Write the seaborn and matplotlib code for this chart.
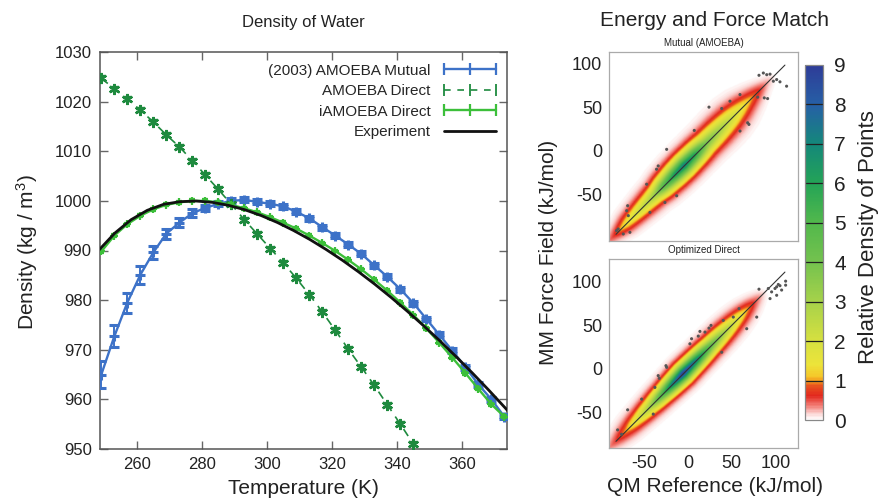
import numpy as np
import pandas as pd
import matplotlib
matplotlib.use("Agg")
import matplotlib.pyplot as plt
import seaborn as sns
from matplotlib.colors import LinearSegmentedColormap
from matplotlib.lines import Line2D
from matplotlib.transforms import ScaledTranslation

sns.set_style("ticks")
plt.rcParams["font.family"] = ["Liberation Sans", "DejaVu Sans"]
plt.rcParams["mathtext.default"] = "regular"
plt.rcParams["axes.unicode_minus"] = False

# ---------------- Density of water (left panel) ----------------
temps = [249, 253, 257, 261, 265, 269, 273, 277, 281, 285, 289, 293, 297, 301,
         305, 309, 313, 317, 321, 325, 329, 333, 337, 341, 345, 349, 353, 357,
         361, 365, 369, 373]

mutual_density = [965.0, 972.7, 979.5, 985.1, 989.6, 993.4, 995.6, 997.5, 998.6,
                  999.4, 1000.0, 1000.2, 999.8, 999.4, 998.9, 997.8, 996.5, 994.7,
                  993.0, 991.2, 989.3, 987.0, 984.7, 982.2, 979.4, 976.2, 973.0,
                  969.8, 966.5, 963.0, 960.0, 956.5]
mutual_err = [2.75, 2.2, 2.0, 1.75, 1.25, 1.0, 0.9, 0.8, 0.6, 0.5, 0.5, 0.5, 0.5,
              0.5, 0.5, 0.5, 0.5, 0.5, 0.5, 0.5, 0.5, 0.5, 0.5, 0.5, 0.5, 0.5,
              0.5, 0.5, 0.5, 0.5, 0.5, 0.5]

direct_temps = [249, 253, 257, 261, 265, 269, 273, 277, 281, 285, 289, 293, 297,
                301, 305, 309, 313, 317, 321, 325, 329, 333, 337, 341, 345]
direct_density = [1024.7, 1022.6, 1020.5, 1018.3, 1015.9, 1013.3, 1010.9, 1008.1,
                  1005.2, 1002.3, 999.3, 996.2, 993.3, 990.4, 987.5, 984.4, 981.1,
                  977.6, 973.9, 970.1, 966.5, 962.8, 958.9, 955.0, 951.0]

iamoeba_density = [989.8, 993.0, 995.3, 997.0, 998.3, 999.2, 999.7, 1000.0, 1000.0,
                   999.7, 999.2, 998.5, 997.7, 996.7, 995.6, 994.4, 993.0, 991.5,
                   989.9, 988.1, 986.2, 984.1, 981.9, 979.5, 977.0, 974.3, 971.4,
                   968.4, 965.3, 962.1, 959.0, 956.5]

exp_temps = [248.15, 253.15, 258.15, 263.15, 268.15, 273.15, 278.15, 283.15, 288.15,
             293.15, 298.15, 303.15, 308.15, 313.15, 318.15, 323.15, 328.15, 333.15,
             338.15, 343.15, 348.15, 353.15, 358.15, 363.15, 368.15, 373.15, 375.0]
exp_density = [990.0, 993.5, 996.2, 998.1, 999.3, 999.84, 999.97, 999.70, 999.10,
               998.21, 997.05, 995.65, 994.03, 992.22, 990.21, 988.04, 985.69, 983.20,
               980.55, 977.76, 974.84, 971.79, 968.61, 965.31, 961.89, 958.35, 957.0]

series_labels = ["(2003) AMOEBA Mutual", "AMOEBA Direct", "iAMOEBA Direct", "Experiment"]
c_mutual, c_direct, c_iamoeba, c_exp = "#3d72c8", "#1e8a3e", "#3cbf3a", "#111111"

# ---------------- Energy and force match (right panels) ----------------
# band profile along the diagonal: position, peak relative density, half-width
mutual_s = [-100, -85, -72, -58, -45, -38, -30, -15, -5, 8, 20, 35, 50, 62, 75, 88, 100]
mutual_peak = [0.0, 0.6, 1.4, 2.1, 2.7, 3.3, 4.7, 6.5, 7.2, 6.0, 4.0, 3.1, 2.2, 1.5, 0.9, 0.35, 0.0]
mutual_width = [5, 7, 8.5, 9, 9.5, 9.5, 9.8, 10, 10, 10.2, 10.8, 11.5, 12, 11.5, 9.5, 7, 5]

direct_s = [-100, -82, -70, -58, -44, -30, -17, -6, 9, 25, 41, 55, 65, 77, 90, 100]
direct_peak = [0.0, 0.6, 1.1, 1.9, 3.1, 5.2, 7.5, 9.0, 7.3, 4.7, 3.1, 1.9, 1.2, 0.5, 0.0, 0.0]
direct_width = [5, 8, 8.7, 8.5, 8.5, 8.3, 8.3, 8.4, 8.4, 8.7, 9.0, 9.0, 8.7, 7.5, 5, 5]

mutual_out_x = [81.2, 86.2, 90.1, 93.9, 97.7, 101.5, 105.3, 112.9, 87.3, 91.1, 59.4,
                47.9, 23.8, 38.4, 68.2, 69.7, 59.4, 6.9, -24.8, -34.5, -36.4, -47.8,
                -69.6, -70.7, -68.8, -80.4, -82.3, -74.6, -67.0, -26.8, -44.0, 79.7, -13.3]
mutual_out_y = [99.3, 101.9, 100.0, 100.6, 92.5, 94.4, 91.8, 86.8, 73.4, 72.6, 77.2,
                69.6, 62.8, 61.2, 44.9, 43.0, 35.4, 36.1, 14.4, -4.6, -8.4, -25.6,
                -50.2, -55.9, -61.6, -76.9, -78.8, -82.6, -80.7, -46.5, -57.9, 74.2, -38.8]

direct_out_x = [81.2, 91.9, 95.7, 99.6, 101.5, 103.4, 105.3, 107.2, 111.8, 111.8, 101.5,
                93.9, 78.6, 67.1, 58.3, 51.7, 40.2, 26.1, 23.8, 19.2, 13.4, 11.5, 3.8,
                1.9, -24.8, -25.6, -34.5, -33.3, -38.3, -53.5, -69.6, -40.2, -81.1,
                -76.6, 38.4]
direct_out_y = [91.4, 92.2, 88.3, 92.2, 94.1, 96.8, 95.4, 90.4, 100.6, 96.0, 84.4,
                80.6, 59.4, 46.1, 69.1, 59.4, 55.6, 49.9, 46.8, 42.2, 43.0, 37.6, 34.6,
                28.8, 1.8, 3.7, -7.7, -10.8, -21.2, -34.6, -46.9, -51.8, -69.9,
                -74.9, 19.1]

ref_line = [-83, 111]
panel_lim = (-91, 126)
panel_ticks = [-50, 0, 50, 100]

density_levels = [0, 0.15, 0.35, 0.6, 0.85, 0.98, 1.1, 1.4, 2, 3, 4, 5, 6, 7, 8, 9]
density_colors = ["#ffffff", "#fbd2d0", "#f27c74", "#e2281e", "#e8521e", "#f39a1e",
                  "#f5c82a", "#ece43a", "#d6e040", "#a6d24a", "#74c24e", "#52b84c",
                  "#24a456", "#14887a", "#2660a6", "#2e3c98"]
density_cmap = LinearSegmentedColormap.from_list(
    "reldens", [(v / 9, c) for v, c in zip(density_levels, density_colors)])

# ---------------- figure ----------------
fig = plt.figure(figsize=(8.8, 4.99), dpi=100)

ax = fig.add_axes([100 / 880, 1 - 449 / 499, 407 / 880, 397 / 499])
ax.errorbar(temps, mutual_density, yerr=mutual_err, color=c_mutual, lw=1.7,
            marker="+", ms=7, mew=2.2, capsize=3.5, elinewidth=1.4, capthick=1.4,
            zorder=3)
ax.errorbar(direct_temps, direct_density, yerr=0.4, color=c_direct, lw=1.2,
            ls=(0, (5, 4)), marker=(6, 2, 0), ms=8, mew=1.7, capsize=3,
            elinewidth=1.2, capthick=1.2, zorder=3)
ax.errorbar(temps, iamoeba_density, yerr=0.3, color=c_iamoeba, lw=1.7,
            marker="+", ms=6, mew=1.6, capsize=2.5, elinewidth=1.2, capthick=1.2,
            zorder=4)
exp_df = pd.DataFrame({"T": exp_temps, "rho": exp_density})
sns.lineplot(data=exp_df, x="T", y="rho", ax=ax, color=c_exp, lw=2.0, zorder=5)

ax.set_xlim(248.6, 373.8)
ax.set_ylim(950, 1030)
ax.set_xticks([260, 280, 300, 320, 340, 360])
ax.set_yticks(range(950, 1031, 10))
ax.set_xlabel("")
ax.set_ylabel("")
ax.tick_params(direction="in", length=6, width=1, color="#666", labelsize=12,
               labelcolor="#222", top=True, right=True, pad=6)
for sp in ax.spines.values():
    sp.set_color("#555")
    sp.set_linewidth(1.1)

handles = [
    Line2D([0], [0], color=c_mutual, lw=1.7, marker="|", ms=8, mew=1.6),
    Line2D([0], [0], color=c_direct, lw=1.2, ls=(0, (4, 4)), marker="|", ms=8, mew=1.3),
    Line2D([0], [0], color=c_iamoeba, lw=1.7, marker="|", ms=8, mew=1.6),
    Line2D([0], [0], color=c_exp, lw=2.0),
]
ax.legend(handles, series_labels, loc="upper right", bbox_to_anchor=(1.018, 1.005),
          markerfirst=False, frameon=False, fontsize=11, numpoints=3,
          handlelength=4.0, handletextpad=0.6, labelspacing=0.42)

fig.text(303 / 880, 1 - 22 / 499, "Density of Water", fontsize=12, ha="center",
         va="center", color="#222")
fig.text(303 / 880, 1 - 489 / 499, "Temperature (K)", fontsize=15, ha="center",
         va="center", color="#222")
fig.text(27 / 880, 1 - 252 / 499, "Density (kg / m$^3$)", fontsize=15, ha="center",
         va="center", rotation=90, color="#222")

# density panels
grid = np.linspace(panel_lim[0], panel_lim[1], 420)
GX, GY = np.meshgrid(grid, grid)
S = (GX + GY) / 2
D = (GY - GX) / np.sqrt(2)


def band_density(s_knots, peak_knots, width_knots):
    peak = np.interp(S, s_knots, peak_knots)
    width = np.interp(S, s_knots, width_knots)
    return peak * np.exp(-(np.abs(D) / width) ** 1.5)


panels = [
    ("Mutual (AMOEBA)", 1 - 241.3 / 499, mutual_s, mutual_peak, mutual_width,
     mutual_out_x, mutual_out_y),
    ("Optimized Direct", 1 - 448.3 / 499, direct_s, direct_peak, direct_width,
     direct_out_x, direct_out_y),
]
axes_r = []
im = None
for title, bottom, s_k, p_k, w_k, ox, oy in panels:
    axr = fig.add_axes([609 / 880, bottom, 189 / 880, 189.3 / 499])
    Z = band_density(s_k, p_k, w_k)
    im = axr.imshow(Z, extent=(panel_lim[0], panel_lim[1], panel_lim[0], panel_lim[1]),
                    origin="lower", cmap=density_cmap, vmin=0, vmax=9,
                    interpolation="bilinear", aspect="auto", zorder=1)
    axr.plot(ref_line, ref_line, color="#333", lw=0.8, zorder=3)
    sns.scatterplot(x=ox, y=oy, ax=axr, color="#555", s=5, edgecolor="none",
                    legend=False, zorder=4)
    axr.set_xlim(*panel_lim)
    axr.set_ylim(*panel_lim)
    axr.set_xticks(panel_ticks)
    axr.set_yticks(panel_ticks)
    axr.tick_params(direction="in", length=4, width=0.8, color="#999", labelsize=13,
                    labelcolor="#222", top=True, right=True, pad=5)
    for sp in axr.spines.values():
        sp.set_color("#aaa")
        sp.set_linewidth(0.9)
    axr.set_title(title, fontsize=7, pad=4, color="#222")
    axes_r.append(axr)

ax_top, ax_bot = axes_r
ax_top.tick_params(labelbottom=False)
shift = ScaledTranslation(0, 11 / 100, fig.dpi_scale_trans)
for lab in ax_top.get_yticklabels():
    lab.set_transform(lab.get_transform() + shift)

cax = fig.add_axes([805 / 880, 1 - 420 / 499, 18 / 880, 355 / 499])
cbar = fig.colorbar(im, cax=cax, ticks=range(10))
cax.tick_params(length=0, labelsize=15, pad=8, labelcolor="#222")
for v in range(1, 9):
    cax.axhline(v, color="#222", lw=0.9)
cbar.outline.set_edgecolor("#888")
cbar.outline.set_linewidth(0.9)

fig.text(714 / 880, 1 - 20 / 499, "Energy and Force Match", fontsize=15,
         ha="center", va="center", color="#222")
fig.text(548 / 880, 1 - 252 / 499, "MM Force Field (kJ/mol)", fontsize=15,
         ha="center", va="center", rotation=90, color="#222")
fig.text(715 / 880, 1 - 486 / 499, "QM Reference (kJ/mol)", fontsize=15,
         ha="center", va="center", color="#222")
fig.text(868 / 880, 1 - 237 / 499, "Relative Density of Points", fontsize=16,
         ha="center", va="center", rotation=90, color="#222")

fig.savefig("out.png", dpi=100)
